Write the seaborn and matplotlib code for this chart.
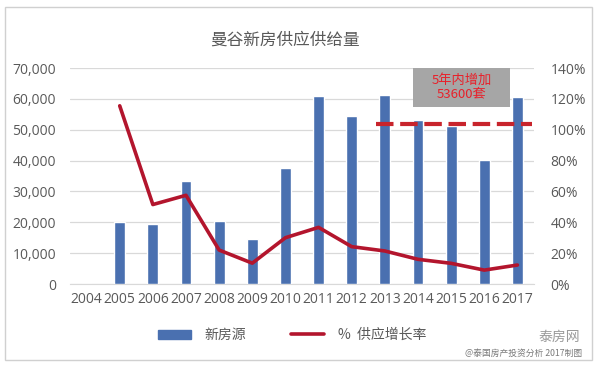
import matplotlib
matplotlib.use("Agg")
import matplotlib.pyplot as plt
import matplotlib.patches as mpatches
from matplotlib.lines import Line2D
import matplotlib.ticker as mticker
import seaborn as sns
import pandas as pd
import numpy as np

years = ["2004", "2005", "2006", "2007", "2008", "2009", "2010",
         "2011", "2012", "2013", "2014", "2015", "2016", "2017"]
new_supply = [0, 20000, 19500, 33400, 20400, 14600, 37500,
              60900, 54500, 61100, 53000, 51300, 40200, 60500]
growth_pct = [np.nan, 115.5, 51.5, 57.5, 22.0, 13.5, 30.0,
              36.7, 24.2, 21.4, 16.0, 13.4, 9.0, 12.3]
bar_label = "新房源"
line_label = "%  供应增长率"
title = "曼谷新房供应供给量"
note_text = "5年内增加\n53600套"
ref_level = 103.5
left_ticks = [0, 10000, 20000, 30000, 40000, 50000, 60000, 70000]
right_ticks = [0, 20, 40, 60, 80, 100, 120, 140]

sns.set_style("white")
plt.rcParams["font.family"] = ["Open Sans", "Noto Sans CJK SC", "DejaVu Sans"]

df = pd.DataFrame({"year": years, "supply": new_supply, "growth": growth_pct})

fig = plt.figure(figsize=(6.0, 3.67), dpi=100)
ax = fig.add_axes([70/600, 1-284/367, (534-70)/600, (284-68)/367])

bar_color = "#4a70b0"
line_color = "#b3152d"
txt_color = "#595959"
grid_color = "#d9d9d9"

sns.barplot(data=df, x="year", y="supply", order=years, color=bar_color,
            width=0.33, saturation=1, ax=ax, zorder=3)
ax.set_ylim(0, 70000)
ax.set_yticks(left_ticks)
ax.yaxis.set_major_formatter(mticker.FuncFormatter(lambda v, p: f"{int(v):,}"))
ax.grid(axis="y", color=grid_color, lw=0.9, zorder=0)
ax.set_axisbelow(True)
for s in ax.spines.values():
    s.set_visible(False)
ax.spines["bottom"].set_visible(True)
ax.spines["bottom"].set_color(grid_color)
ax.set_xlabel("")
ax.set_ylabel("")
ax.tick_params(axis="both", length=0, labelsize=10, colors=txt_color)
ax.tick_params(axis="y", pad=10)
ax.tick_params(axis="x", pad=6)

ax2 = ax.twinx()
sns.pointplot(data=df, x="year", y="growth", order=years, color=line_color,
              markers="", linewidth=2.6, ax=ax2, errorbar=None, zorder=5)
ax2.set_ylim(0, 140)
ax2.set_yticks(right_ticks)
ax2.yaxis.set_major_formatter(mticker.FuncFormatter(lambda v, p: f"{int(v)}%"))
for s in ax2.spines.values():
    s.set_visible(False)
ax2.set_ylabel("")
ax2.tick_params(axis="y", length=0, labelsize=10, colors=txt_color, pad=12)
ax2.set_xlim(-0.5, len(years) - 0.5)
ax.set_xlim(-0.5, len(years) - 0.5)

# dashed reference line
ax2.plot([8.72, 13.44], [ref_level, ref_level], color="#c8242c", lw=3,
         dashes=(4.2, 1.6), zorder=6, solid_capstyle="butt")

# annotation box
fig.patches.append(mpatches.Rectangle((413/600, 1-107/367), 97/600, 39/367,
                                      transform=fig.transFigure, facecolor="#a6a6a6",
                                      edgecolor="none", zorder=2))
fig.text(461.5/600, 1-87.5/367, note_text, ha="center", va="center",
         color="#e8202a", fontsize=9.5, linespacing=1.05, zorder=3,
         family=["Noto Sans CJK SC", "DejaVu Sans"])

fig.text(285/600, 1-40/367, title, ha="center", va="center", fontsize=12,
         color=txt_color, family=["Noto Sans CJK SC", "DejaVu Sans"])

handles = [mpatches.Patch(color=bar_color, label=bar_label),
           Line2D([0], [0], color=line_color, lw=2.6, label=line_label)]
fig.legend(handles=handles, loc="center", bbox_to_anchor=(292/600, 1-335/367),
           ncol=2, frameon=False, fontsize=10, handlelength=2.4, handleheight=0.6,
           columnspacing=3.2, handletextpad=1.0, labelcolor=txt_color,
           prop={"family": ["Noto Sans CJK SC", "DejaVu Sans"], "size": 10})

fig.text(580/600, 1-337/367, "泰房网", ha="right", va="center", fontsize=10,
         color="#9a9a9a", family=["Noto Sans CJK SC", "DejaVu Sans"])
fig.text(582/600, 1-353.5/367, "@泰国房产投资分析 2017制图", ha="right", va="center",
         fontsize=6.3, color="#7a7a7a", family=["Noto Sans CJK SC", "DejaVu Sans"])

fig.patches.append(mpatches.Rectangle((5/600, 1-360/367), 587/600, 353/367,
                                      transform=fig.transFigure, facecolor="none",
                                      edgecolor="#d0d0d0", lw=1.0, zorder=0))

fig.savefig("out.png", dpi=100, facecolor="white")
